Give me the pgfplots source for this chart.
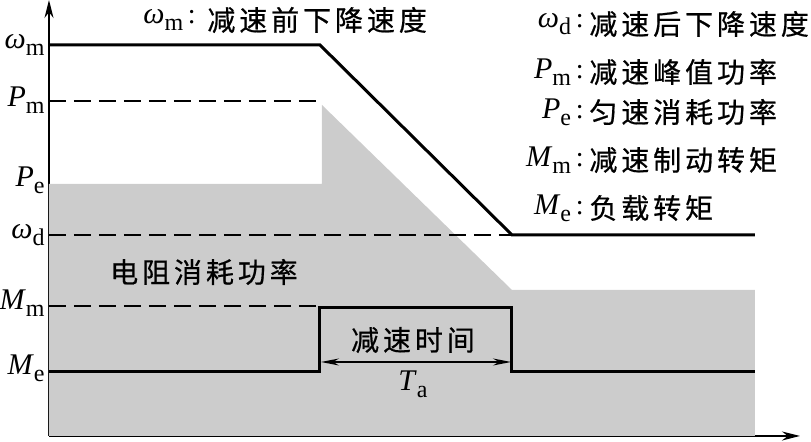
\documentclass[border=0pt]{standalone}
\usepackage{pgfplots}
\pgfplotsset{compat=1.18}
\usepackage{fontspec}
\setmainfont{Liberation Serif}
\newfontfamily\cjk[LetterSpace=14,FakeBold=0.6]{Noto Sans CJK SC}
\usetikzlibrary{arrows.meta}
\newcommand\sub[1]{\raisebox{-0.55ex}{\fontsize{12}{12}\selectfont #1}}
\newcommand\sym[2]{{\fontsize{15}{16}\selectfont\textit{#1}}\sub{#2}}
\newcommand\cn[1]{{\fontsize{14}{16}\selectfont\cjk #1}}
\begin{document}
\fontsize{14}{16}\selectfont
\begin{tikzpicture}
\begin{axis}[
  x=0.5pt, y=0.5pt,
  xmin=49, xmax=800, ymin=6, ymax=442,
  axis lines=left,
  xtick=\empty, ytick=\empty,
  clip=false,
  axis line style={line width=1pt,-{Stealth[length=9pt,width=4.5pt]}},
]
% resistor dissipated power (gray area)
\addplot[fill=black!20, draw=none] coordinates {(49,6)(49,258)(322,258)(322,337)(512,152)(755,152)(755,6)} -- cycle;
% dashed reference lines
\addplot[black, line width=0.75pt, dash pattern=on 8.5pt off 4pt] coordinates {(49,341)(320,341)};
\addplot[black, line width=0.75pt, dash pattern=on 8.5pt off 4pt] coordinates {(49,207)(512,207)};
\addplot[black, line width=0.75pt, dash pattern=on 8.5pt off 4pt] coordinates {(49,136)(320,136)};
% speed
\addplot[black, line width=1.5pt] coordinates {(49,397)(320,397)(512,207)(755,207)};
% torque
\addplot[black, line width=1.5pt] coordinates {(49,70)(320,70)(320,134)(512,134)(512,70)(755,70)};
% deceleration time arrow
\addplot[black, line width=0.6pt, {Stealth[length=9pt,width=3.5pt]}-{Stealth[length=9pt,width=3.5pt]}] coordinates {(321,80)(511,80)};

% left labels
\node[inner sep=0pt, anchor=east] at (axis cs:45,397) {\sym{ω}{m}};
\node[inner sep=0pt, anchor=east] at (axis cs:45,342) {\sym{P}{m}};
\node[inner sep=0pt, anchor=east] at (axis cs:45,262) {\sym{P}{e}};
\node[inner sep=0pt, anchor=east] at (axis cs:45,207) {\sym{ω}{d}};
\node[inner sep=0pt, anchor=east] at (axis cs:45,139) {\sym{M}{m}};
\node[inner sep=0pt, anchor=east] at (axis cs:45,74) {\sym{M}{e}};

% top title
\node[inner sep=0pt, anchor=west] at (axis cs:143,422) {\sym{ω}{m}\,:};
\node[inner sep=0pt, anchor=west] at (axis cs:207,422) {\cn{减速前下降速度}};

% right legend
\node[inner sep=0pt, anchor=east] at (axis cs:584,418) {\sym{ω}{d}\,:};
\node[inner sep=0pt, anchor=west] at (axis cs:589,418) {\cn{减速后下降速度}};
\node[inner sep=0pt, anchor=east] at (axis cs:584,370) {\sym{P}{m}\,:};
\node[inner sep=0pt, anchor=west] at (axis cs:589,370) {\cn{减速峰值功率}};
\node[inner sep=0pt, anchor=east] at (axis cs:584,330) {\sym{P}{e}\,:};
\node[inner sep=0pt, anchor=west] at (axis cs:589,330) {\cn{匀速消耗功率}};
\node[inner sep=0pt, anchor=east] at (axis cs:584,282) {\sym{M}{m}\,:};
\node[inner sep=0pt, anchor=west] at (axis cs:589,282) {\cn{减速制动转矩}};
\node[inner sep=0pt, anchor=east] at (axis cs:584,234) {\sym{M}{e}\,:};
\node[inner sep=0pt, anchor=west] at (axis cs:589,234) {\cn{负载转矩}};

% inner labels
\node[inner sep=0pt] at (axis cs:204,170) {\cn{电阻消耗功率}};
\node[inner sep=0pt] at (axis cs:413,102) {\cn{减速时间}};
\node[inner sep=0pt] at (axis cs:413,58) {\sym{T}{a}};

\coordinate (bl) at (axis cs:0,0);
\coordinate (tr) at (axis cs:811,442);
\end{axis}
\pgfresetboundingbox
\path (bl) rectangle (tr);
\end{tikzpicture}
\end{document}
